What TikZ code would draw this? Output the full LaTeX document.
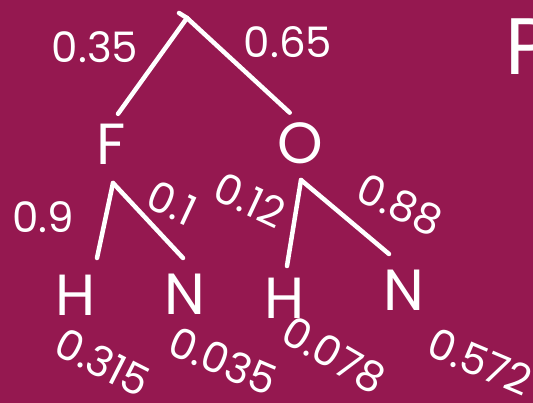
\documentclass[tikz,border=0pt]{standalone}
\usepackage{fontspec}
\setmainfont{Poppins}
\definecolor{bg}{RGB}{149,24,80}
\begin{document}
\begin{tikzpicture}[x=1pt,y=-1pt,
  lbl/.style={text=white, font=\fontsize{42}{42}\selectfont, inner sep=0pt},
  leaf/.style={text=white, font=\fontsize{58}{58}\selectfont, inner sep=0pt},
  edge/.style={draw=white, line width=4.5pt, line cap=round}]
\fill[bg] (0,0) rectangle (533,403);
\useasboundingbox (0,0) rectangle (533,403);
% tree nodes
\coordinate (root) at (187,18);
\coordinate (tick) at (179,13);
\node[leaf] (F) at (111,144) {F};
\node[leaf] (O) at (300,143) {O};
\node[leaf] (H1) at (76,295) {H};
\node[leaf] (N1) at (185,294) {N};
\node[leaf] (H2) at (285,298) {H};
\node[leaf] (N2) at (404,290) {N};
% junction points
\coordinate (Fb) at (113,183);
\coordinate (Ob) at (301,180);
\coordinate (H1t) at (97,258);
\coordinate (N1t) at (183,258);
\coordinate (H2t) at (287,266);
\coordinate (N2t) at (389,254);
% edges
\draw[edge] (tick) -- (root);
\draw[edge,shorten >=12pt] (root) -- (F.north);
\draw[edge,shorten >=14pt] (root) -- (O.north);
\draw[edge] (Fb) -- (H1t);
\draw[edge] (Fb) -- (N1t);
\draw[edge] (Ob) -- (H2t);
\draw[edge] (Ob) -- (N2t);
% branch probabilities
\node[lbl] (p35) at (95,47) {0.35};
\node[lbl] (p65) at (288,42) {0.65};
\node[lbl] (p9) at (43,217) {0.9};
\node[lbl,rotate=-25] (p1) at (172,203) {0.1};
\node[lbl,rotate=-25] (p12) at (250,200) {0.12};
\node[lbl,rotate=-25] (p88) at (400,205) {0.88};
% leaf probabilities
\node[lbl,rotate=-27] (q1) at (103,362) {0.315};
\node[lbl,rotate=-23] (q2) at (223,361) {0.035};
\node[lbl,rotate=-30] (q3) at (334,355) {0.078};
\node[lbl,rotate=-23] (q4) at (480,362) {0.572};
% partial letter at right edge
\node[text=white, font=\fontsize{80}{80}\selectfont, inner sep=0pt, anchor=west] (P) at (505,47) {P};
\end{tikzpicture}
\end{document}
